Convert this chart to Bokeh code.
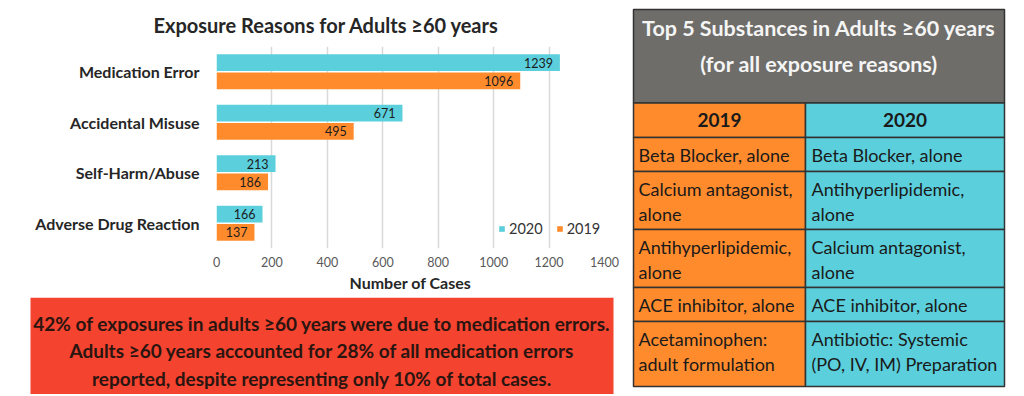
from bokeh.plotting import figure
from bokeh.layouts import row, column
from bokeh.models import ColumnDataSource, FactorRange, Range1d, FixedTicker, Legend, LegendItem
from bokeh.transform import dodge
from bokeh.core.properties import value
from bokeh.embed import file_html
from bokeh.resources import INLINE

# ---------------- data ----------------
categories = ["Medication Error", "Accidental Misuse", "Self-Harm/Abuse", "Adverse Drug Reaction"]
cases_2020 = [1239, 671, 213, 166]
cases_2019 = [1096, 495, 186, 137]
x_ticks = [0, 200, 400, 600, 800, 1000, 1200, 1400]
series_names = ["2020", "2019"]
chart_title = "Exposure Reasons for Adults ≥60 years"
x_axis_title = "Number of Cases"

note_lines = [
    "42% of exposures in adults ≥60 years were due to medication errors.",
    "Adults ≥60 years accounted for 28% of all medication errors",
    "reported, despite representing only 10% of total cases.",
]

table_title_lines = ["Top 5 Substances in Adults ≥60 years", "(for all exposure reasons)"]
table_years = ["2019", "2020"]
substances_2019 = [
    ["Beta Blocker, alone"],
    ["Calcium antagonist,", "alone"],
    ["Antihyperlipidemic,", "alone"],
    ["ACE inhibitor, alone"],
    ["Acetaminophen:", "adult formulation"],
]
substances_2020 = [
    ["Beta Blocker, alone"],
    ["Antihyperlipidemic,", "alone"],
    ["Calcium antagonist,", "alone"],
    ["ACE inhibitor, alone"],
    ["Antibiotic: Systemic", "(PO, IV, IM) Preparation"],
]

# ---------------- style ----------------
FONT = "Lato"
CYAN = "#5BCFDC"
ORANGE = "#FF8B2D"
RED = "#F4432F"
GRAY = "#6E6D69"
DARK = "#262626"
BORDER = "#333333"

LEFT_W, RIGHT_W = 625, 391
BAR_H, NOTE_H = 297, 97

# ---------------- bar chart ----------------
src = ColumnDataSource(dict(
    cat=categories,
    v2020=cases_2020, v2019=cases_2019,
    t2020=[str(v) for v in cases_2020], t2019=[str(v) for v in cases_2019],
))

p = figure(width=LEFT_W, height=BAR_H, y_range=FactorRange(factors=categories[::-1]),
           x_range=Range1d(x_ticks[0], x_ticks[-1]), output_backend="svg",
           toolbar_location=None, min_border_left=216, min_border_right=21,
           min_border_top=46, min_border_bottom=49, title=chart_title)
p.frame_align = False

y20 = dodge("cat", 0.18, range=p.y_range)
y19 = dodge("cat", -0.18, range=p.y_range)
r20 = p.hbar(y=y20, left=0, right="v2020", height=0.33, source=src,
             fill_color=CYAN, line_color=None)
r19 = p.hbar(y=y19, left=0, right="v2019", height=0.33, source=src,
             fill_color=ORANGE, line_color=None)
for yy, col in ((y20, "2020"), (y19, "2019")):
    p.text(x="v" + col, y=yy, text="t" + col, source=src, x_offset=-7,
           text_align="right", text_baseline="middle", text_font=value(FONT),
           text_font_size="12.5px", text_color="#1c1c1c")

p.title.align = "left"
p.title.offset = -63
p.title.standoff = 19
p.title.text_font = FONT
p.title.text_font_size = "20px"
p.title.text_font_style = "bold"
p.title.text_color = DARK

p.xaxis.ticker = FixedTicker(ticks=x_ticks)
p.xaxis.axis_label = x_axis_title
p.xaxis.axis_label_text_font = FONT
p.xaxis.axis_label_text_font_size = "16px"
p.xaxis.axis_label_text_font_style = "bold"
p.xaxis.axis_label_text_color = DARK
p.xaxis.axis_label_standoff = 3
p.xaxis.major_label_standoff = 8
p.xaxis.major_label_text_font = FONT
p.xaxis.major_label_text_font_size = "12.5px"
p.xaxis.major_label_text_color = "#595959"
p.yaxis.major_label_text_font = FONT
p.yaxis.major_label_text_font_size = "16px"
p.yaxis.major_label_text_font_style = "bold"
p.yaxis.major_label_text_color = DARK
p.yaxis.major_label_standoff = 17
for ax in (p.xaxis, p.yaxis):
    ax.axis_line_color = None
    ax.major_tick_line_color = None
    ax.minor_tick_line_color = None
    ax.major_tick_out = 0
    ax.major_tick_in = 0
    ax.minor_tick_out = 0
    ax.minor_tick_in = 0
p.xgrid.grid_line_color = "#D9D9D9"
p.xgrid.grid_line_width = 1.5
p.ygrid.grid_line_color = None
p.outline_line_color = None

legend = Legend(items=[LegendItem(label=series_names[0], renderers=[r20]),
                       LegendItem(label=series_names[1], renderers=[r19])],
                orientation="horizontal", location=(282, 11), glyph_width=7, glyph_height=7,
                label_text_font=FONT, label_text_font_size="14.5px", label_text_color="#333333",
                label_standoff=4, spacing=13, padding=2, margin=0, label_height=16,
                border_line_color=None, background_fill_alpha=0)
p.add_layout(legend)

# ---------------- note box ----------------
bf = figure(width=LEFT_W, height=NOTE_H, x_range=Range1d(0, LEFT_W), y_range=Range1d(NOTE_H, 0),
            output_backend="svg", toolbar_location=None, min_border=0,
            x_axis_location=None, y_axis_location=None)
bf.frame_align = False
bf.grid.visible = False
bf.outline_line_color = None
bf.quad(left=30, right=613, top=0, bottom=NOTE_H, fill_color=RED, line_color=None)
bf.text(x=[321.5] * len(note_lines), y=[25.5 + 27.5 * i for i in range(len(note_lines))],
        text=note_lines, text_align="center", text_baseline="middle",
        text_font=value(FONT), text_font_size="19px", text_font_style="bold",
        text_color="#2A1510")

# ---------------- table ----------------
tf = figure(width=RIGHT_W, height=BAR_H + NOTE_H, x_range=Range1d(0, RIGHT_W),
            y_range=Range1d(BAR_H + NOTE_H, 0),
            output_backend="svg", toolbar_location=None, min_border=0,
            x_axis_location=None, y_axis_location=None)
tf.frame_align = False
tf.grid.visible = False
tf.outline_line_color = None

L, M, R = 8, 180, 379
TOP, HEAD_B, YEAR_B, BOTTOM = 9, 102.5, 137, 386

tf.quad(left=L, right=R, top=TOP, bottom=HEAD_B, fill_color=GRAY,
        line_color=BORDER, line_width=1.5)
tf.text(x=[(L + R) / 2] * 2, y=[27, 63], text=table_title_lines, text_align="center",
        text_baseline="middle", text_font=value(FONT), text_font_size="21.5px",
        text_font_style="bold", text_color="#F5F5F5")

# row boundaries from line counts
tops, bots = [HEAD_B], [YEAR_B]
y = YEAR_B
n_rows = len(substances_2019)
for i in range(n_rows):
    n = max(len(substances_2019[i]), len(substances_2020[i]))
    h = 10 + 24 * n
    top = y
    y = BOTTOM if i == n_rows - 1 else y + h
    tops.append(top)
    bots.append(y)

tf.quad(left=[L] * len(tops), right=[M] * len(tops), top=tops, bottom=bots,
        fill_color=ORANGE, line_color=BORDER, line_width=1.5)
tf.quad(left=[M] * len(tops), right=[R] * len(tops), top=tops, bottom=bots,
        fill_color=CYAN, line_color=BORDER, line_width=1.5)

tf.text(x=[(L + M) / 2, (M + R) / 2], y=[(HEAD_B + YEAR_B) / 2] * 2, text=table_years,
        text_align="center", text_baseline="middle", text_font=value(FONT),
        text_font_size="19px", text_font_style="bold", text_color="#1A1A1A")

xs, ys, ts = [], [], []
for i in range(n_rows):
    for x0, cell in ((L + 5, substances_2019[i]), (M + 6, substances_2020[i])):
        for j, line in enumerate(cell):
            xs.append(x0)
            ys.append(tops[i + 1] + 17 + 25 * j)
            ts.append(line)
tf.text(x=xs, y=ys, text=ts, text_align="left", text_baseline="middle",
        text_font=value(FONT), text_font_size="18px", text_color="#1A1A1A")

layout = row(column(p, bf), tf)
open("out.html", "w").write(file_html(layout, INLINE))
